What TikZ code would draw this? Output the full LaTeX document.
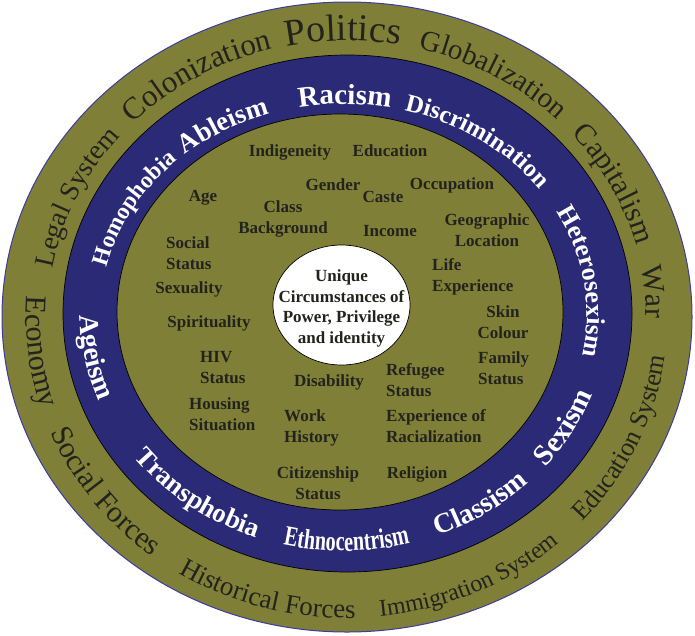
\documentclass[tikz,border=0pt]{standalone}
\usepackage{fontspec}
\setmainfont{Liberation Serif}
\newfontfamily\condfont[FakeStretch=0.72]{Liberation Serif}
\usetikzlibrary{decorations.text,shapes.geometric}
\definecolor{olivebg}{RGB}{127,127,55}
\definecolor{ringblue}{RGB}{42,42,118}
\definecolor{edgeblue}{RGB}{60,60,160}
\definecolor{inkdark}{RGB}{35,35,30}
% #1 cx, #2 cy, #3 rx, #4 ry, #5 centre angle, #6 signed half span, #7 colour, #8 format, #9 text
\newcommand\ringword[9]{%
  \pgfmathsetmacro\angA{#5-#6}\pgfmathsetmacro\angB{#5+#6}%
  \path[decorate,decoration={text along path,text align=center,text color=#7,text={|#8|#9}}]
    ({#1+#3*cos(\angA)},{#2+#4*sin(\angA)}) arc[start angle=\angA,end angle=\angB,x radius=#3pt,y radius=#4pt];}
\newcommand\outtop[3]{\ringword{347}{-315.5}{299}{275}{#1}{-45}{inkdark}{\fontsize{#2}{#2}\selectfont}{#3}}
\newcommand\outbot[3]{\ringword{347}{-317}{321}{301}{#1}{45}{inkdark}{\fontsize{#2}{#2}\selectfont}{#3}}
\newcommand\bluetop[3]{\ringword{344}{-313}{243}{209}{#1}{-45}{white}{\bfseries\fontsize{#2}{#2}\selectfont}{#3}}
\newcommand\bluebot[3]{\ringword{344}{-313}{264}{238}{#1}{45}{white}{\bfseries\fontsize{#2}{#2}\selectfont}{#3}}
\tikzset{
  lbl/.style={font=\bfseries\fontsize{17}{21}\selectfont, text=inkdark, inner sep=0pt, align=center},
  lbll/.style={lbl, align=left, anchor=west},
  ringline/.style={draw=black, line width=0.7pt}
}
\begin{document}
\begin{tikzpicture}[x=1pt,y=1pt]
\useasboundingbox (0,-635) rectangle (695,0);
% rings
\draw[fill=olivebg, draw=edgeblue, line width=1pt] (347,-317) ellipse [x radius=345pt, y radius=315pt];
\draw[ringline, fill=ringblue] (347.5,-313.5) ellipse [x radius=284.5pt, y radius=258.5pt];
\draw[ringline, fill=olivebg] (340,-312) ellipse [x radius=223pt, y radius=198pt];
\node[ringline, fill=white, ellipse, minimum width=137pt, minimum height=120pt, inner sep=0pt] (core) at (341.5,-305) {};
\node[lbl, font=\bfseries\fontsize{17}{20.5}\selectfont] (coretext) at (341.5,-308.5) {Unique\\Circumstances of\\Power, Privilege\\and identity};
% outer ring words
\outtop{155.5}{27.5}{Legal System}
\outtop{120.9}{31}{Colonization}
\outtop{90.8}{38}{Politics}
\outtop{59.8}{29}{Globalization}
\outtop{27.1}{30}{Capitalism}
\outtop{4.6}{30}{War}
\outbot{186.7}{30}{Economy}
\outbot{216.8}{30}{Social Forces}
\outbot{254.5}{27}{Historical Forces}
\outbot{294.2}{24}{Immigration System}
\outbot{335.4}{26}{Education System}
% blue ring words
\bluetop{151.8}{23.5}{Homophobia}
\bluetop{121.0}{27}{Ableism}
\bluetop{89.8}{29}{Racism}
\bluetop{54.4}{25}{Discrimination}
\bluetop{8.1}{26}{Heterosexism}
\bluebot{190.7}{28}{Ageism}
\bluebot{232.8}{27}{Transphobia}
\ringword{344}{-313}{264}{238}{270.6}{45}{white}{\condfont\bfseries\fontsize{28}{28}\selectfont}{Ethnocentrism}
\bluebot{303.8}{28}{Classism}
\bluebot{331.1}{29}{Sexism}
% inner labels
\node[lbl] (indig) at (290,-152) {Indigeneity};
\node[lbl] (educ) at (390,-151) {Education};
\node[lbl] (gender) at (333,-185) {Gender};
\node[lbl] (caste) at (383,-197) {Caste};
\node[lbl] (occup) at (452,-185) {Occupation};
\node[lbl] (age) at (203,-198) {Age};
\node[lbl] (class) at (283,-218.5) {Class\\Background};
\node[lbl] (income) at (390,-231) {Income};
\node[lbl] (geo) at (487,-230) {Geographic\\Location};
\node[lbll] (social) at (166,-253.5) {Social\\Status};
\node[lbll] (life) at (432,-276.5) {Life\\Experience};
\node[lbl] (sexual) at (189,-289) {Sexuality};
\node[lbl] (spirit) at (209,-323) {Spirituality};
\node[lbl] (skin) at (503,-322.5) {Skin\\Colour};
\node[lbll] (hiv) at (200,-368) {HIV\\Status};
\node[lbll] (family) at (478,-368.5) {Family\\Status};
\node[lbl] (disab) at (329,-382) {Disability};
\node[lbll] (refugee) at (386,-380.5) {Refugee\\Status};
\node[lbll] (housing) at (189,-414.5) {Housing\\Situation};
\node[lbll] (work) at (284,-428) {Work\\History};
\node[lbll] (racial) at (386,-426) {Experience of\\Racialization};
\node[lbl] (citizen) at (318,-483) {Citizenship\\Status};
\node[lbl] (relig) at (417,-474) {Religion};
\end{tikzpicture}
\end{document}
